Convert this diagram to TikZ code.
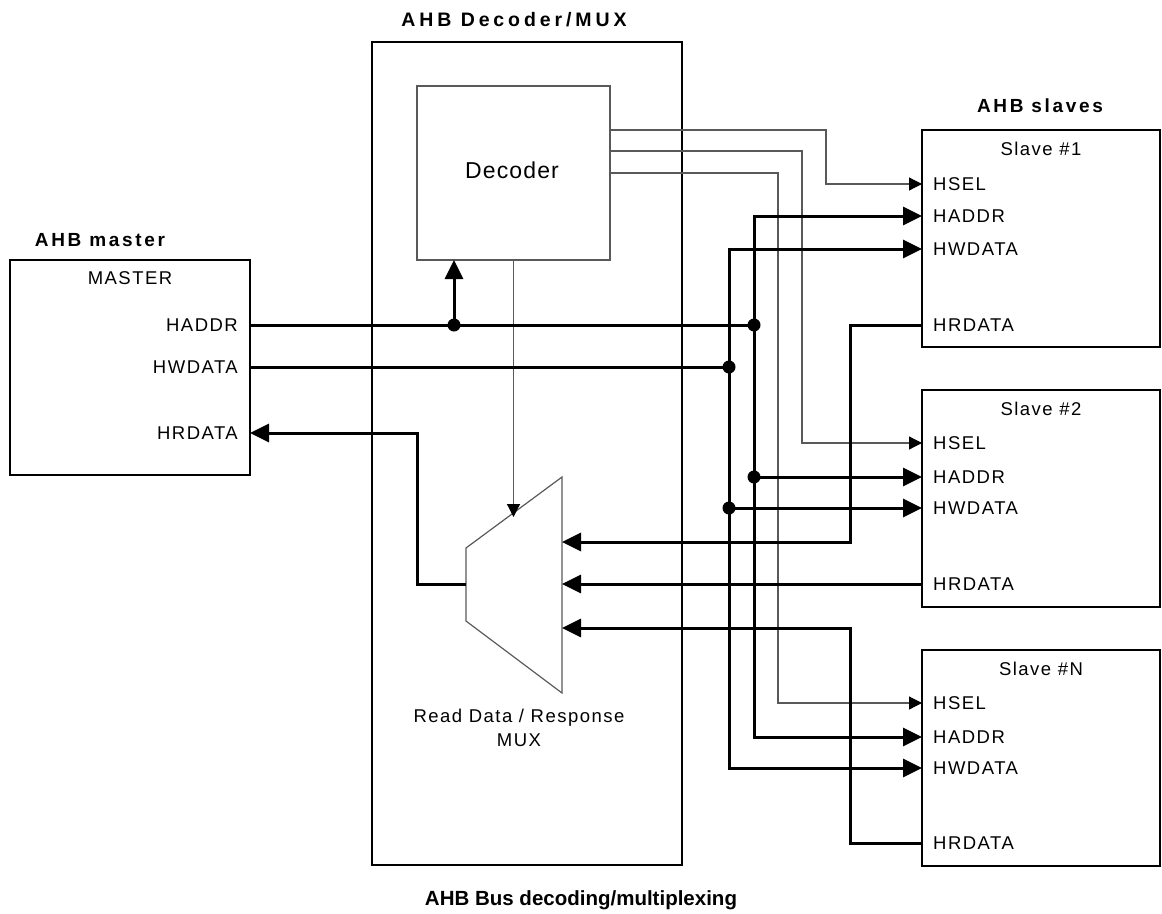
\documentclass[tikz,border=0pt]{standalone}
\usepackage{fontspec}
\setmainfont{Liberation Sans}
\newfontfamily\lblfont[LetterSpace=8]{Liberation Sans}
\newfontfamily\decfont[LetterSpace=5]{Liberation Sans}
\newfontfamily\ttlfont[LetterSpace=14]{Liberation Sans}
\newfontfamily\widettlfont[LetterSpace=20]{Liberation Sans}
\newfontfamily\capfont{Liberation Sans}
\usetikzlibrary{arrows.meta}
\begin{document}
\begin{tikzpicture}[x=1pt,y=-1pt,
  bus/.style={line width=3pt},
  sig/.style={line width=1.2pt, draw=black!65},
  busarrow/.style={bus,-{Triangle[length=19pt,width=18pt]}},
  sigarrow/.style={sig,-{Triangle[length=13pt,width=13pt,color=black]}},
  blk/.style={draw, line width=1.8pt, inner sep=0pt},
  gblk/.style={draw=black!65, line width=1.2pt, inner sep=0pt},
  lbl/.style={font=\lblfont\fontsize{18.5}{22}\selectfont, inner sep=0pt},
  declbl/.style={font=\decfont\fontsize{23}{27}\selectfont, inner sep=0pt},
  ttl/.style={font=\ttlfont\bfseries\fontsize{19}{22}\selectfont, inner sep=0pt},
  widettl/.style={font=\widettlfont\bfseries\fontsize{19.5}{22}\selectfont, inner sep=0pt},
  capttl/.style={font=\capfont\bfseries\fontsize{20.5}{24}\selectfont, inner sep=0pt},
  dot/.style={circle, fill, inner sep=0pt, minimum size=13pt}
]
\useasboundingbox (0,0) rectangle (1162,913);

% boxes
\node[blk, minimum width=240pt, minimum height=215pt] (master) at (130,367.5) {};
\node[draw, line width=1.5pt, inner sep=0pt, minimum width=310pt, minimum height=823pt] (outer) at (527,453.5) {};
\node[gblk, minimum width=193pt, minimum height=174pt] (decoder) at (513.5,173) {};
\node[blk, minimum width=238pt, minimum height=217pt] (slave1) at (1041,238.5) {};
\node[blk, minimum width=238pt, minimum height=217pt] (slave2) at (1041,498.5) {};
\node[blk, minimum width=238pt, minimum height=216pt] (slaveN) at (1041,758) {};

% titles
\node[ttl] (tmaster) at (100,240) {AHB master};
\node[widettl] (tdecmux) at (514,20) {AHB Decoder/MUX};
\node[ttl] (tslaves) at (1040,106) {AHB slaves};
\node[capttl] (tcaption) at (581,900) {AHB Bus decoding/multiplexing};

% box texts
\node[lbl] (lmaster) at (130,278) {MASTER};
\node[declbl] (ldecoder) at (512,170) {Decoder};
\node[lbl, anchor=base] (lrd) at (519,722) {Read Data / Response};
\node[lbl, anchor=base] (lmux) at (519,746) {MUX};

% master ports
\coordinate (mA) at (250,325);
\coordinate (mW) at (250,367);
\coordinate (mR) at (250,433);
\node[lbl, anchor=east] (lmA) at (238,325) {HADDR};
\node[lbl, anchor=east] (lmW) at (238,367) {HWDATA};
\node[lbl, anchor=east] (lmR) at (238,433) {HRDATA};

% slave ports
\coordinate (s1SEL) at (922,184);
\coordinate (s1A) at (922,216);
\coordinate (s1W) at (922,249);
\coordinate (s1R) at (922,325);
\coordinate (s2SEL) at (922,443);
\coordinate (s2A) at (922,477);
\coordinate (s2W) at (922,508);
\coordinate (s2R) at (922,584);
\coordinate (sNSEL) at (922,703);
\coordinate (sNA) at (922,737);
\coordinate (sNW) at (922,768);
\coordinate (sNR) at (922,843);

\foreach \s/\t/\y in {1/Slave \#1/130, 2/Slave \#2/390, N/Slave \#N/650}{
  \node[lbl] (ls\s title) at (1041,\y+19) {\t};
}
\foreach \s/\ya/\yb/\yc/\yd in {1/184/216/249/325, 2/443/477/508/584, N/703/737/768/843}{
  \node[lbl, anchor=west] (ls\s sel) at (933,\ya) {HSEL};
  \node[lbl, anchor=west] (ls\s addr) at (933,\yb) {HADDR};
  \node[lbl, anchor=west] (ls\s wd) at (933,\yc) {HWDATA};
  \node[lbl, anchor=west] (ls\s rd) at (933,\yd) {HRDATA};
}

% mux
\coordinate (mux1) at (466,548);
\coordinate (mux2) at (562,477);
\coordinate (mux3) at (562,693);
\coordinate (mux4) at (466,621);
\draw[gblk] (mux1) -- (mux2) -- (mux3) -- (mux4) -- cycle;
\coordinate (muxIn1) at (562,542);
\coordinate (muxIn2) at (562,584);
\coordinate (muxIn3) at (562,628);
\coordinate (muxOut) at (466,584);
\coordinate (selTip) at (513.5,517);

% junctions
\coordinate (jDec) at (454,325);
\coordinate (decB) at (454,260);
\coordinate (jA1) at (754,325);
\coordinate (jW1) at (729,367);
\coordinate (jA2) at (754,477);
\coordinate (jW2) at (729,508);

% decoder outputs
\coordinate (d1) at (610,130);
\coordinate (d2) at (610,151);
\coordinate (d3) at (610,173);
\draw[sigarrow] (d1) -- ++(216,0) |- (s1SEL);
\draw[sigarrow] (d2) -- ++(192,0) |- (s2SEL);
\draw[sigarrow] (d3) -- ++(168,0) |- (sNSEL);
\draw[sigarrow] (decoder.south) -- (selTip);

% HADDR bus
\draw[bus] (mA) -- (jA1);
\draw[busarrow] (jDec) -- (decB);
\draw[busarrow] (jA1) |- (s1A);
\draw[busarrow] (jA1) |- (sNA);
\draw[busarrow] (jA2) -- (s2A);

% HWDATA bus
\draw[bus] (mW) -- (jW1);
\draw[busarrow] (jW1) |- (s1W);
\draw[busarrow] (jW1) |- (sNW);
\draw[busarrow] (jW2) -- (s2W);

% HRDATA
\draw[busarrow] (s1R) -- ++(-72,0) |- (muxIn1);
\draw[busarrow] (s2R) -- (muxIn2);
\draw[busarrow] (sNR) -- ++(-72,0) |- (muxIn3);
\draw[busarrow] (muxOut) -- ++(-49,0) |- (mR);

% dots
\node[dot] (dDec) at (jDec) {};
\node[dot] (dA1) at (jA1) {};
\node[dot] (dW1) at (jW1) {};
\node[dot] (dA2) at (jA2) {};
\node[dot] (dW2) at (jW2) {};
\end{tikzpicture}
\end{document}
